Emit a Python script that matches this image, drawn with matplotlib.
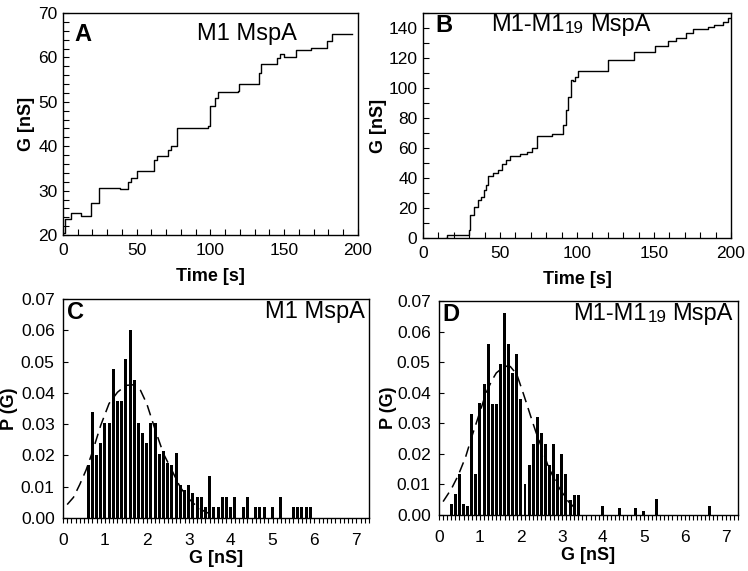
#!/usr/bin/env python3
"""Conductance traces and conductance histograms for M1 and M1-M1_19 MspA."""

import matplotlib

matplotlib.use("Agg")
import matplotlib.pyplot as plt
from matplotlib.ticker import MultipleLocator, FormatStrFormatter

# panel A: M1 MspA step trace (time [s], G [nS])
A_TIME = [0, 1.5, 5.5, 12, 19.2, 24.2, 38.4, 44, 46, 50, 62, 64, 71, 73, 77,
          98.3, 99.4, 103, 105, 118.6, 119.3, 133, 134.5, 145, 147, 150,
          158.2, 168, 179, 182.6, 196]
A_G = [20.4, 23.5, 24.9, 24.3, 27.3, 30.5, 30.3, 32.0, 32.8, 34.5, 37.0, 37.7,
       39.2, 40.0, 44.0, 44.6, 49.1, 50.8, 52.2, 52.5, 54.0, 56.6, 58.6, 59.8,
       60.8, 60.2, 61.6, 62.1, 63.6, 65.3, 65.3]

# panel B: M1-M1_19 MspA step trace
B_TIME = [15, 15.5, 29, 29.7, 30.8, 33, 35.6, 37.7, 39.5, 41, 42.3, 45.5, 48.6,
          51.4, 54.2, 56.8, 63.3, 67.7, 71, 73.8, 84, 91, 92.6, 94.1, 95.9,
          97.6, 98.7, 100.7, 120.4, 136.7, 150.8, 159.2, 164.2, 170.7, 175,
          184.8, 189, 194.6, 197.8, 200]
B_G = [0, 2.2, 2.2, 5, 15, 20.7, 25, 27.4, 31.8, 35, 41.2, 43.4, 45.2, 49.2,
       52.3, 54.8, 56.3, 57.5, 59.7, 67.9, 69.3, 75.3, 85.3, 94.2, 105.3,
       104.7, 107.6, 111.6, 118.7, 124.3, 128.3, 131.6, 133.6, 136.5, 139.4,
       140.5, 142.1, 144.3, 146.5, 146.5]

# panel C: M1 MspA histogram
C_BINS = [0.6, 0.7, 0.8, 0.9, 1.0, 1.1, 1.2, 1.3, 1.4, 1.5, 1.6, 1.7, 1.8, 1.9,
          2.0, 2.1, 2.2, 2.3, 2.4, 2.5, 2.6, 2.7, 2.8, 2.9, 3.0, 3.1, 3.2, 3.3,
          3.4, 3.5, 3.6, 3.7, 3.8, 3.9, 4.0, 4.1, 4.3, 4.4, 4.6, 4.7, 4.8, 5.0,
          5.2, 5.5, 5.6, 5.7, 5.8, 5.9]
C_PROB = [0.0170, 0.0340, 0.0202, 0.0239, 0.0305, 0.0303, 0.0476, 0.0374,
          0.0374, 0.0509, 0.0601, 0.0441, 0.0303, 0.0273, 0.0239, 0.0305,
          0.0305, 0.0204, 0.0213, 0.0176, 0.0170, 0.0207, 0.0104, 0.0090,
          0.0104, 0.0080, 0.0068, 0.0068, 0.0035, 0.0135, 0.0035, 0.0035,
          0.0068, 0.0068, 0.0035, 0.0068, 0.0035, 0.0068, 0.0035, 0.0035,
          0.0035, 0.0035, 0.0068, 0.0035, 0.0035, 0.0035, 0.0035, 0.0035]
C_FIT_G = [0.1, 0.25, 0.4, 0.55, 0.7, 0.9, 1.1, 1.3, 1.5, 1.7, 1.85, 2.0, 2.2,
           2.4, 2.6, 2.8, 3.0, 3.2, 3.4, 3.6]
C_FIT_P = [0.0043, 0.0066, 0.0107, 0.0153, 0.0210, 0.0296, 0.0366, 0.0402,
           0.0424, 0.0426, 0.0408, 0.0365, 0.0282, 0.0205, 0.0152, 0.0098,
           0.0062, 0.0036, 0.0019, 0.0010]

# panel D: M1-M1_19 MspA histogram
D_BINS = [0.3, 0.4, 0.5, 0.6, 0.7, 0.8, 0.9, 1.0, 1.1, 1.2, 1.3, 1.4, 1.5, 1.6,
          1.7, 1.8, 1.9, 2.0, 2.1, 2.2, 2.3, 2.4, 2.5, 2.6, 2.7, 2.8, 2.9, 3.0,
          3.1, 3.2, 3.3, 3.4, 4.0, 4.4, 4.8, 5.0, 5.3, 6.6]
D_PROB = [0.0035, 0.0068, 0.0133, 0.0035, 0.0030, 0.0330, 0.0133, 0.0365,
          0.0430, 0.0560, 0.0363, 0.0363, 0.0495, 0.0660, 0.0560, 0.0466,
          0.0528, 0.0380, 0.0100, 0.0165, 0.0233, 0.0320, 0.0267, 0.0233,
          0.0165, 0.0233, 0.0133, 0.0199, 0.0133, 0.0048, 0.0067, 0.0067,
          0.0030, 0.0022, 0.0022, 0.0014, 0.0051, 0.0028]
D_FIT_G = [0.1, 0.3, 0.47, 0.65, 0.8, 1.04, 1.15, 1.29, 1.4, 1.53, 1.65, 1.74,
           1.9, 2.06, 2.15, 2.27, 2.37, 2.47, 2.67, 2.8, 2.92, 3.05, 3.16, 3.37]
D_FIT_P = [0.0044, 0.0085, 0.0130, 0.0190, 0.0256, 0.0354, 0.0400, 0.0440,
           0.0465, 0.0479, 0.0487, 0.0486, 0.0460, 0.0397, 0.0360, 0.0310,
           0.0270, 0.0234, 0.0158, 0.0122, 0.0092, 0.0065, 0.0044, 0.0016]

FONT = ["Liberation Sans", "DejaVu Sans"]
TICK_SIZE = 12.5
LABEL_SIZE = 13
LETTER_SIZE = 17
TITLE_SIZE = 17
BAR_WIDTH = 0.072


def configure_matplotlib():
    plt.rcParams.update(
        {
            "font.family": FONT,
            "axes.linewidth": 1.0,
            "xtick.labelsize": TICK_SIZE,
            "ytick.labelsize": TICK_SIZE,
            "xtick.color": "black",
            "ytick.color": "black",
        }
    )


def draw_title(ax, x, y, ha):
    """Draw 'M1-M1' + small '19' + 'MspA' on one baseline."""
    kw = dict(fontsize=TITLE_SIZE, transform=ax.transAxes, va="top")
    small = TITLE_SIZE * 0.72
    if ha == "left":
        first = ax.text(x, y, "M1-M1", ha="left", **kw)
        sub = ax.annotate("19", xy=(1, 0), xycoords=first, xytext=(0.5, 0),
                          textcoords="offset points", fontsize=small,
                          ha="left", va="bottom")
        ax.annotate("MspA", xy=(1, 0), xycoords=sub, xytext=(4.5, 0),
                    textcoords="offset points", fontsize=TITLE_SIZE,
                    ha="left", va="bottom")
    else:
        last = ax.text(x, y, "MspA", ha="right", **kw)
        sub = ax.annotate("19", xy=(0, 0), xycoords=last, xytext=(-4.5, 0),
                          textcoords="offset points", fontsize=small,
                          ha="right", va="bottom")
        ax.annotate("M1-M1", xy=(0, 0), xycoords=sub, xytext=(-0.5, 0),
                    textcoords="offset points", fontsize=TITLE_SIZE,
                    ha="right", va="bottom")


def style_trace_axes(ax, ymax, ymin, ystep, yminor, ylabelpad):
    ax.set_xlim(0, 200)
    ax.set_ylim(ymin, ymax)
    ax.xaxis.set_major_locator(MultipleLocator(50))
    ax.xaxis.set_minor_locator(MultipleLocator(10))
    ax.yaxis.set_major_locator(MultipleLocator(ystep))
    ax.yaxis.set_minor_locator(MultipleLocator(yminor))
    ax.tick_params(axis="both", which="both", direction="in", length=4.5,
                   width=0.8, top=False, right=False)
    ax.tick_params(axis="x", which="major", pad=6)
    ax.tick_params(axis="y", which="major", pad=4)
    ax.set_xlabel("Time [s]", fontsize=LABEL_SIZE, fontweight="bold", labelpad=7)
    ax.set_ylabel("G [nS]", fontsize=LABEL_SIZE, fontweight="bold",
                  labelpad=ylabelpad)


def style_hist_axes(ax, ylabelpad):
    ax.set_xlim(0, 7.3)
    ax.set_ylim(0, 0.07)
    ax.xaxis.set_major_locator(MultipleLocator(1))
    ax.xaxis.set_minor_locator(MultipleLocator(0.1))
    ax.yaxis.set_major_locator(MultipleLocator(0.01))
    ax.yaxis.set_major_formatter(FormatStrFormatter("%.2f"))
    ax.tick_params(axis="x", which="both", direction="out", length=3.5,
                   width=0.8, top=False, pad=7)
    ax.tick_params(axis="y", which="both", direction="in", length=3.5,
                   width=0.8, right=False, pad=6)
    ax.set_xlabel("G [nS]", fontsize=LABEL_SIZE, fontweight="bold", labelpad=2)
    ax.set_ylabel("P (G)", fontsize=LABEL_SIZE, fontweight="bold",
                  labelpad=ylabelpad)


def main():
    configure_matplotlib()
    fig = plt.figure(figsize=(7.48, 5.71), dpi=100)

    ax_a = fig.add_axes([0.0842, 0.5884, 0.3944, 0.3888])
    ax_b = fig.add_axes([0.5655, 0.5832, 0.4118, 0.3940])
    ax_c = fig.add_axes([0.0842, 0.0928, 0.4090, 0.3835])
    ax_d = fig.add_axes([0.5869, 0.0980, 0.3997, 0.3748])

    # A
    ax_a.step(A_TIME, A_G, where="post", color="black", linewidth=1.0)
    style_trace_axes(ax_a, 70, 20, 10, 2, 2)
    ax_a.text(0.04, 0.955, "A", transform=ax_a.transAxes, fontsize=LETTER_SIZE,
              fontweight="bold", va="top", ha="left")
    ax_a.text(0.455, 0.955, "M1 MspA", transform=ax_a.transAxes,
              fontsize=TITLE_SIZE, va="top", ha="left")

    # B
    ax_b.step(B_TIME, B_G, where="post", color="black", linewidth=1.0)
    style_trace_axes(ax_b, 150, 0, 20, 10, 1)
    ax_b.text(0.039, 0.995, "B", transform=ax_b.transAxes, fontsize=LETTER_SIZE,
              fontweight="bold", va="top", ha="left")
    draw_title(ax_b, 0.22, 0.995, "left")

    # C
    ax_c.bar(C_BINS, C_PROB, width=BAR_WIDTH, color="black", linewidth=0)
    ax_c.plot(C_FIT_G, C_FIT_P, color="black", linewidth=1.1,
              linestyle=(0, (7, 4)))
    style_hist_axes(ax_c, 2)
    ax_c.text(0.013, 0.99, "C", transform=ax_c.transAxes, fontsize=LETTER_SIZE,
              fontweight="bold", va="top", ha="left")
    ax_c.text(0.987, 0.99, "M1 MspA", transform=ax_c.transAxes,
              fontsize=TITLE_SIZE, va="top", ha="right")

    # D
    ax_d.bar(D_BINS, D_PROB, width=BAR_WIDTH, color="black", linewidth=0)
    ax_d.plot(D_FIT_G, D_FIT_P, color="black", linewidth=1.1,
              linestyle=(0, (7, 4)))
    style_hist_axes(ax_d, 0)
    ax_d.text(0.012, 0.99, "D", transform=ax_d.transAxes, fontsize=LETTER_SIZE,
              fontweight="bold", va="top", ha="left")
    draw_title(ax_d, 0.983, 0.99, "right")

    fig.savefig("out.png", dpi=100)
    plt.close(fig)


if __name__ == "__main__":
    main()
